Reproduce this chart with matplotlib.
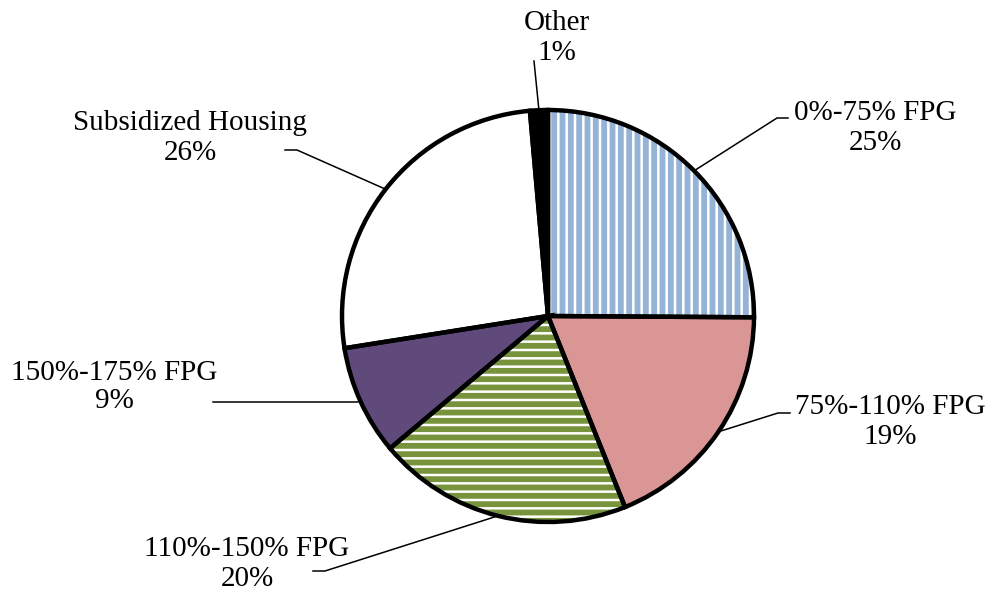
import numpy as np
import matplotlib
matplotlib.use("Agg")
import matplotlib.pyplot as plt

# slices, clockwise from 12 o'clock
categories = ["0%-75% FPG", "75%-110% FPG", "110%-150% FPG",
              "150%-175% FPG", "Subsidized Housing", "Other"]
shares = [25.1, 18.8, 20.0, 8.6, 26.1, 1.4]
colors = ["white", "#D99694", "white", "#604A7B", "white", "black"]
hatch_colors = ["#95B3D7", "#D99694", "#77933C", "#604A7B", "white", "black"]
hatches = ["||", None, "--", None, None, None]

W, H = 992, 593


def px(x, y):
    # image pixel coords (y down) -> axes coords (y up)
    return x, H - y


# label block centre, leader elbow, leader end (image pixels)
label_pos = [(875, 128), (890, 422), (247, 564), (114, 387), (190, 138), (557, 38)]
elbows = [(777, 118), (778, 413), (325, 571), (357, 402), (297, 150), (534, 61)]
ends = [(788, 118), (790, 413), (313, 571), (213, 402), (285, 150), (534, 61)]

plt.rcParams["hatch.linewidth"] = 4.2
plt.rcParams["font.family"] = ["Liberation Serif", "DejaVu Serif"]

fig = plt.figure(figsize=(W / 100, H / 100), dpi=100)
ax = fig.add_axes([0, 0, 1, 1])

center = px(548, 316)
radius = 206

# fills (with stripe hatches)
wedges, _ = ax.pie(shares, colors=colors, startangle=90, counterclock=False,
                   center=center, radius=radius,
                   wedgeprops=dict(linewidth=0))
for w, hc, h in zip(wedges, hatch_colors, hatches):
    w.set_edgecolor(hc)
    if h:
        w.set_hatch(h)

# black outlines
ax.pie(shares, startangle=90, counterclock=False, center=center, radius=radius,
       wedgeprops=dict(fill=False, edgecolor="black", linewidth=3.2))

for w, name, v, lp, el, en in zip(wedges, categories, shares, label_pos, elbows, ends):
    mid = np.deg2rad((w.theta1 + w.theta2) / 2)
    sx = center[0] + radius * np.cos(mid)
    sy = center[1] + radius * np.sin(mid)
    ex, ey = px(*el)
    fx, fy = px(*en)
    ax.plot([sx, ex, fx], [sy, ey, fy], color="black", lw=1.1, zorder=0.5)
    ax.text(*px(*lp), f"{name}\n{v:.0f}%", ha="center", va="center",
            fontsize=21, linespacing=1.15)

ax.set_xlim(0, W)
ax.set_ylim(0, H)
ax.set_aspect("equal")
ax.axis("off")

fig.savefig("out.png", dpi=100)
